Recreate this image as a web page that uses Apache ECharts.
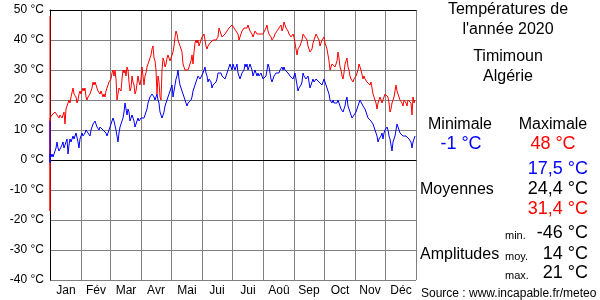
<!DOCTYPE html>
<html><head><meta charset="utf-8">
<script src="https://cdn.jsdelivr.net/npm/echarts@6/dist/echarts.min.js"></script>
<style>html,body{margin:0;padding:0;background:#fff}#c{width:600px;height:300px}</style>
</head><body><div id="c"></div>
<script>
const monthNames = ['Jan','Fév','Mar','Avr','Mai','Jui','Jui','Aoû','Sep','Oct','Nov','Déc'];
const monthDays = [31,29,31,30,31,30,31,31,30,31,30,31];
const yTicks = [-40,-30,-20,-10,0,10,20,30,40,50];
// glitch values drawn at day 0 before the daily series
const maxSpike = [48, -17];
const minSpike = [13, -1];
const maxTemps = [
14,14,15,15,15,16,16,15,15,14,
15,15,14,15,16,12,17,18,18,20,
19,21,21,24,22,22,21,19,20,22,
23,22,23,24,23,24,21,20,21,21,
22,23,24,26,25,26,25,24,23,23,
22,23,22,21,22,21,23,24,25,26,
26,27,29,30,28,30,27,20,22,24,
24,23,27,30,29,30,28,31,30,26,
23,24,28,26,25,22,23,23,28,26,
25,27,31,28,25,28,29,31,32,33,
34,35,37,38,34,33,30,22,28,26,
21,20,30,34,33,31,32,34,35,34,
33,34,34,36,38,41,43,42,40,39,
38,37,36,32,31,30,30,30,30,31,
31,33,35,32,36,39,40,39,40,38,
39,40,41,41,42,40,38,37,38,38,
39,39,39,40,40,40,40,40,41,44,
43,42,41,41,41,42,42,43,43,44,
44,44,45,45,44,44,43,43,42,40,
41,42,43,43,44,44,44,44,45,44,
43,43,42,41,42,43,43,42,42,42,
42,42,42,42,42,42,44,45,43,42,
42,41,40,40,41,42,42,43,43,44,
44,45,43,44,46,45,44,44,43,42,
42,41,41,42,41,39,37,35,37,37,
38,39,40,42,42,41,41,40,38,37,
36,36,37,39,40,41,42,42,42,40,
38,39,40,40,41,39,38,37,35,33,
30,31,32,32,32,31,32,33,36,34,
31,30,28,27,29,32,33,34,31,30,
28,27,27,26,27,27,28,29,30,32,
31,30,30,27,28,27,27,26,26,26,
25,26,24,22,21,20,19,17,19,20,
21,20,19,20,21,22,22,22,21,19,
16,17,19,20,21,23,25,23,22,21,
20,20,19,18,20,20,19,18,20,20,
20,19,15,21,19,20
];
const minTemps = [
2,1,2,1,2,3,4,6,4,3,
3,3,5,6,4,5,6,7,2,5,
7,6,7,8,7,8,9,9,6,4,
7,8,9,8,8,9,10,10,9,9,
8,10,11,12,12,13,12,11,11,10,
11,11,11,10,10,10,9,8,9,10,
10,12,13,14,13,13,10,8,6,9,
11,12,13,14,16,19,17,15,17,16,
13,14,15,15,13,11,12,13,14,13,
13,14,14,14,14,15,16,17,19,20,
21,21,22,22,21,20,21,22,20,19,
16,15,14,14,16,18,19,20,21,22,
23,24,25,21,23,25,27,28,30,27,
25,24,23,22,21,20,19,18,19,19,
19,20,21,23,24,25,26,27,28,28,
27,27,27,29,30,31,29,28,26,27,
27,26,24,25,25,25,26,27,29,29,
29,29,28,28,28,27,28,29,30,31,
32,31,30,32,31,30,31,32,29,28,
27,28,29,29,30,32,31,32,30,31,
32,31,30,28,29,30,29,28,29,28,
28,29,29,27,27,27,28,30,32,31,
29,27,26,27,28,28,29,29,29,29,
30,30,31,30,31,30,30,30,29,29,
28,28,28,27,28,29,27,25,23,24,
24,25,26,29,28,28,27,27,28,26,
24,25,26,27,26,26,27,27,27,26,
26,26,25,26,27,26,25,24,23,22,
20,20,19,20,19,19,19,19,20,19,
18,17,17,16,17,18,20,21,18,17,
17,15,14,14,15,15,16,16,18,19,
20,20,20,18,18,17,16,15,14,14,
14,13,13,12,11,10,9,8,6,7,
7,8,9,7,9,10,10,11,10,8,
7,5,3,6,7,8,10,12,11,10,
9,9,9,8,8,8,8,8,8,7,
7,6,4,6,7,8
];
const titleLines = ['Températures de', "l'année 2020"];
const placeLines = ['Timimoun', 'Algérie'];
const statHeads = ['Minimale', 'Maximale'];
const statExtremes = ['-1 °C', '48 °C'];
const meanLabel = 'Moyennes';
const meanValues = ['17,5 °C', '24,4 °C', '31,4 °C'];
const ampLabel = 'Amplitudes';
const ampKinds = ['min.', 'moy.', 'max.'];
const ampValues = ['-46 °C', '14 °C', '21 °C'];
const sourceText = 'Source : www.incapable.fr/meteo';

const totalDays = monthDays.reduce((a,b)=>a+b,0);
const cats = [];
for (let i = 0; i <= totalDays; i++) cats.push(String(i));
const starts = new Set(); const mids = {};
let acc = 0;
monthDays.forEach((d, m) => { starts.add(acc); mids[Math.round(acc + d/2)] = monthNames[m]; acc += d; });
starts.add(acc);

const maxData = maxSpike.map(v => [0, v]).concat(maxTemps.map((v, i) => [i, v]));
const minData = minSpike.map(v => [0, v]).concat(minTemps.map((v, i) => [i, v]));

const F = 'Liberation Sans, Arial, sans-serif';
const txt = (x, y, s, size, color, align) => ({type:'text', x, y, style:{text:s, font: size + 'px ' + F, fill: color || '#000', textAlign: align || 'center', textVerticalAlign:'middle'}});

const graphic = [
  txt(508, 10, titleLines[0], 16), txt(508, 30, titleLines[1], 16),
  txt(508, 57, placeLines[0], 16), txt(508, 77, placeLines[1], 16),
  txt(460, 125, statHeads[0], 16), txt(553, 125, statHeads[1], 16),
  txt(461, 144, statExtremes[0], 18, '#0000ff'), txt(553, 144, statExtremes[1], 18, '#ff0000'),
  txt(588, 169, meanValues[0], 18, '#0000ff', 'right'),
  txt(420, 190, meanLabel, 16, '#000', 'left'),
  txt(588, 189, meanValues[1], 18, '#000', 'right'),
  txt(588, 209, meanValues[2], 18, '#ff0000', 'right'),
  txt(505, 236, ampKinds[0], 11, '#000', 'left'),
  txt(588, 233, ampValues[0], 18, '#000', 'right'),
  txt(420, 255, ampLabel, 16, '#000', 'left'),
  txt(505, 257, ampKinds[1], 11, '#000', 'left'),
  txt(588, 254, ampValues[1], 18, '#000', 'right'),
  txt(505, 276, ampKinds[2], 11, '#000', 'left'),
  txt(588, 273, ampValues[2], 18, '#000', 'right'),
  txt(421, 294, sourceText, 12, '#000', 'left')
];

const chart = echarts.init(document.getElementById('c'), null, {renderer:'canvas'});
chart.setOption({
  animation: false,
  grid: {left: 50, top: 10, right: 184, bottom: 20, show: false},
  xAxis: [{
    type: 'category', data: cats, boundaryGap: false,
    axisLine: {show: true, lineStyle: {color: '#000', width: 1}},
    axisTick: {show: false},
    axisLabel: {interval: 0, color: '#000', fontSize: 12, fontFamily: F, margin: 5,
      formatter: (v, i) => mids[i] || ''},
    splitLine: {show: true, interval: (i) => starts.has(i), lineStyle: {color: '#808080', width: 1}}
  }, {
    type: 'category', data: cats, boundaryGap: false, position: 'top',
    axisLine: {show: true, lineStyle: {color: '#000', width: 1}},
    axisTick: {show: false}, axisLabel: {show: false}, splitLine: {show: false}
  }],
  yAxis: {
    type: 'value', min: yTicks[0], max: yTicks[yTicks.length-1], interval: 10,
    axisLine: {show: true, lineStyle: {color: '#000', width: 1}},
    axisTick: {show: false},
    axisLabel: {color: '#000', fontSize: 12, fontFamily: F, margin: 6, formatter: '{value} °C'},
    splitLine: {show: true, lineStyle: {color: '#808080', width: 1}}
  },
  series: [
    {type: 'line', data: maxData, showSymbol: false, symbol: 'none', lineStyle: {color: '#ff0000', width: 1}, itemStyle: {color: '#ff0000'}},
    {type: 'line', data: minData, showSymbol: false, symbol: 'none', lineStyle: {color: '#0000ff', width: 1}, itemStyle: {color: '#0000ff'}}
  ],
  graphic: graphic
});
</script>
</body></html>
